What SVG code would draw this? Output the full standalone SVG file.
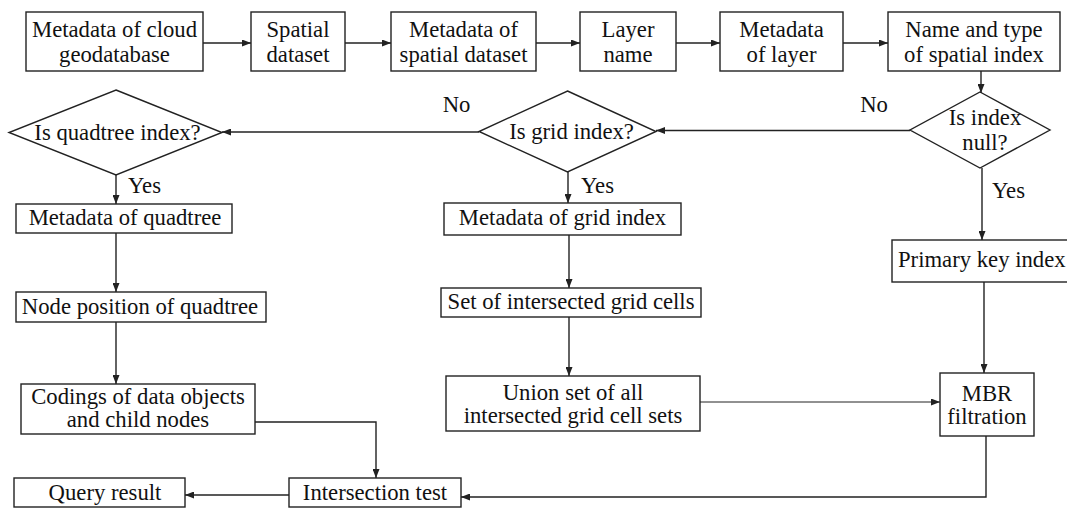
<svg xmlns="http://www.w3.org/2000/svg" width="1067" height="509" viewBox="0 0 1067 509" font-family="'Liberation Serif', 'Times New Roman', Times, 'DejaVu Serif', serif">
  <style>
    .box { fill: #fff; stroke: #222; stroke-width: 1.4; }
    .t { font-family: 'Liberation Serif', 'Times New Roman', Times, serif; font-size: 22.7px; fill: #111; text-anchor: middle; }
    .ts { text-anchor: start; }
    .ln { fill: none; stroke: #222; stroke-width: 1.4; }
    .thin { stroke-width: 1; }
  </style>
  <defs>
    <marker id="arrow" markerUnits="userSpaceOnUse" markerWidth="9" markerHeight="7" refX="9" refY="3.5" orient="auto">
      <path d="M0,0 L9,3.5 L0,7 z" fill="#222"/>
    </marker>
  </defs>
  <rect width="1067" height="509" fill="#fff"/>

  <!-- top row -->
  <g id="meta-cloud">
    <rect class="box" x="26" y="12" width="177" height="59"/>
    <text class="t" x="114.5" y="36.7">Metadata of cloud</text>
    <text class="t" x="114.5" y="61.7">geodatabase</text>
  </g>
  <g id="spatial-dataset">
    <rect class="box" x="251" y="12" width="94" height="59"/>
    <text class="t" x="298" y="36.7">Spatial</text>
    <text class="t" x="298" y="61.7">dataset</text>
  </g>
  <g id="meta-dataset">
    <rect class="box" x="391" y="12" width="145" height="59"/>
    <text class="t" x="463.5" y="36.7">Metadata of</text>
    <text class="t" x="463.5" y="61.7">spatial dataset</text>
  </g>
  <g id="layer-name">
    <rect class="box" x="580" y="12" width="96" height="59"/>
    <text class="t" x="628" y="36.7">Layer</text>
    <text class="t" x="628" y="61.7">name</text>
  </g>
  <g id="meta-layer">
    <rect class="box" x="720" y="12" width="123" height="59"/>
    <text class="t" x="781.5" y="36.7">Metadata</text>
    <text class="t" x="781.5" y="61.7">of layer</text>
  </g>
  <g id="index-name-type">
    <rect class="box" x="888" y="12" width="172" height="59"/>
    <text class="t" x="974" y="36.7">Name and type</text>
    <text class="t" x="974" y="61.7">of spatial index</text>
  </g>

  <!-- decisions -->
  <g id="is-null">
    <polygon class="box" points="980,92 1050,130 980,168 910,130"/>
    <text class="t" x="985" y="125">Is index</text>
    <text class="t" x="985" y="150">null?</text>
  </g>
  <g id="is-grid">
    <polygon class="box" points="567.5,91 656,131.5 567.5,172 479,131.5"/>
    <text class="t" x="571.5" y="139">Is grid index?</text>
  </g>
  <g id="is-quadtree">
    <polygon class="box" points="116,90 222,132.5 116,175 9,132.5"/>
    <text class="t" x="117.5" y="140">Is quadtree index?</text>
  </g>

  <!-- quadtree branch -->
  <g id="meta-quadtree">
    <rect class="box" x="16" y="204" width="216" height="29"/>
    <text class="t" x="125" y="225">Metadata of quadtree</text>
  </g>
  <g id="node-position">
    <rect class="box" x="16" y="292" width="250" height="30"/>
    <text class="t" x="140" y="314">Node position of quadtree</text>
  </g>
  <g id="codings">
    <rect class="box" x="21" y="384" width="234" height="50"/>
    <text class="t" x="138" y="404">Codings of data objects</text>
    <text class="t" x="138" y="427">and child nodes</text>
  </g>

  <!-- grid branch -->
  <g id="meta-grid">
    <rect class="box" x="444" y="203" width="237" height="32"/>
    <text class="t" x="562.5" y="225">Metadata of grid index</text>
  </g>
  <g id="grid-cells">
    <rect class="box" x="441" y="288" width="260" height="29"/>
    <text class="t" x="571" y="309">Set of intersected grid cells</text>
  </g>
  <g id="union-set">
    <rect class="box" x="446" y="376" width="254" height="55"/>
    <text class="t" x="573" y="400">Union set of all</text>
    <text class="t" x="573" y="423">intersected grid cell sets</text>
  </g>

  <!-- primary key branch -->
  <g id="primary-key">
    <rect class="box" x="892" y="240" width="190" height="42"/>
    <text class="t ts" x="898" y="267">Primary key index</text>
  </g>
  <g id="mbr">
    <rect class="box" x="940" y="373" width="94" height="63"/>
    <text class="t" x="987" y="401">MBR</text>
    <text class="t" x="987" y="424">filtration</text>
  </g>

  <!-- results -->
  <g id="intersection-test">
    <rect class="box" x="289" y="478" width="172" height="29"/>
    <text class="t" x="375" y="500">Intersection test</text>
  </g>
  <g id="query-result">
    <rect class="box" x="14" y="478" width="171" height="29"/>
    <text class="t" x="105" y="500">Query result</text>
  </g>

  <!-- branch labels -->
  <g id="labels">
    <text class="t" x="456.5" y="112">No</text>
    <text class="t" x="874" y="112">No</text>
    <text class="t ts" x="128" y="193">Yes</text>
    <text class="t ts" x="581" y="193">Yes</text>
    <text class="t ts" x="992" y="198">Yes</text>
  </g>

  <g id="connectors">
    <line class="ln" x1="203" y1="43" x2="251" y2="43" marker-end="url(#arrow)"/>
    <line class="ln" x1="345" y1="43" x2="391" y2="43" marker-end="url(#arrow)"/>
    <line class="ln" x1="536" y1="43" x2="580" y2="43" marker-end="url(#arrow)"/>
    <line class="ln" x1="676" y1="43" x2="720" y2="43" marker-end="url(#arrow)"/>
    <line class="ln" x1="843" y1="43" x2="888" y2="43" marker-end="url(#arrow)"/>
    <line class="ln" x1="981" y1="71" x2="981" y2="93" marker-end="url(#arrow)"/>
    <line class="ln" x1="910" y1="130.5" x2="656" y2="130.5" marker-end="url(#arrow)"/>
    <line class="ln" x1="479" y1="132" x2="222" y2="132" marker-end="url(#arrow)"/>
    <line class="ln" x1="116" y1="175" x2="116" y2="204" marker-end="url(#arrow)"/>
    <line class="ln" x1="568" y1="172" x2="568" y2="203" marker-end="url(#arrow)"/>
    <line class="ln" x1="982" y1="168" x2="982" y2="240" marker-end="url(#arrow)"/>
    <line class="ln" x1="116" y1="233" x2="116" y2="292" marker-end="url(#arrow)"/>
    <line class="ln" x1="116" y1="322" x2="116" y2="384" marker-end="url(#arrow)"/>
    <line class="ln" x1="569" y1="235" x2="569" y2="288" marker-end="url(#arrow)"/>
    <line class="ln" x1="569" y1="317" x2="569" y2="376" marker-end="url(#arrow)"/>
    <line class="ln" x1="984" y1="282" x2="984" y2="373" marker-end="url(#arrow)"/>
    <line class="ln thin" x1="700" y1="402" x2="940" y2="402" marker-end="url(#arrow)"/>
    <polyline class="ln" points="255,422 376,422 376,478" marker-end="url(#arrow)"/>
    <polyline class="ln" points="986,436 986,497 461,497" marker-end="url(#arrow)"/>
    <line class="ln" x1="289" y1="495" x2="185" y2="495" marker-end="url(#arrow)"/>
  </g>
</svg>
